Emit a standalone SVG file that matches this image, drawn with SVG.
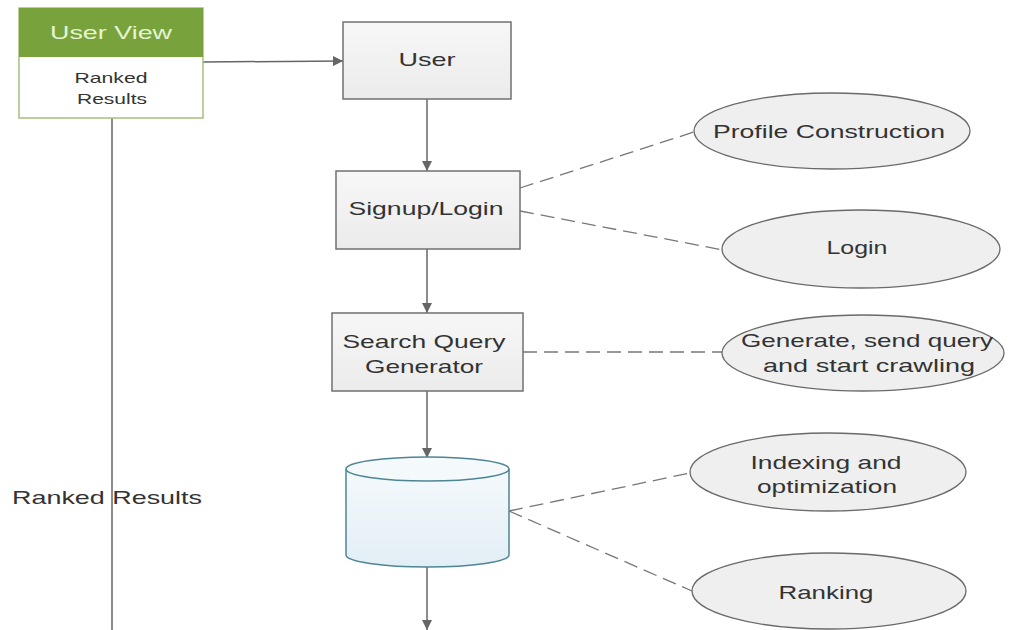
<svg xmlns="http://www.w3.org/2000/svg" width="1009" height="630" viewBox="0 0 1009 630">
<defs>
<linearGradient id="boxg" x1="0" y1="0" x2="0" y2="1"><stop offset="0" stop-color="#f7f7f7"/><stop offset="1" stop-color="#ebebeb"/></linearGradient>
<linearGradient id="cylg" x1="0" y1="0" x2="0" y2="1"><stop offset="0" stop-color="#f4f9fc"/><stop offset="1" stop-color="#e2eef5"/></linearGradient>
<marker id="arr" viewBox="0 0 10 10" refX="10" refY="5" markerWidth="10" markerHeight="10" markerUnits="userSpaceOnUse" orient="auto"><path d="M0,0 L10,5 L0,10 z" fill="#666"/></marker>
<style>
.box{fill:url(#boxg);stroke:#707070;stroke-width:1.5}
.ell{fill:#efefef;stroke:#6a6a6a;stroke-width:1.3}
.t{font-family:"Liberation Sans",Arial,sans-serif;fill:#333;font-size:19px;text-anchor:middle}
.s{font-size:15px}
.ln{stroke:#666;stroke-width:1.5;fill:none}
.dash{stroke:#777;stroke-width:1.3;fill:none;stroke-dasharray:14 7}
</style>
</defs>
<rect width="1009" height="630" fill="#fff"/>
<g id="connectors">
<line class="ln" x1="203" y1="62" x2="343" y2="61" marker-end="url(#arr)"/>
<line class="ln" x1="112" y1="118" x2="112" y2="630"/>
<line class="ln" x1="427" y1="99" x2="427" y2="171" marker-end="url(#arr)"/>
<line class="ln" x1="427" y1="249" x2="427" y2="313" marker-end="url(#arr)"/>
<line class="ln" x1="427" y1="391" x2="427" y2="458" marker-end="url(#arr)"/>
<line class="ln" x1="427" y1="567" x2="427" y2="630" marker-end="url(#arr)"/>
<line class="dash" x1="520" y1="188" x2="694" y2="132"/>
<line class="dash" x1="520" y1="211" x2="723" y2="250"/>
<line class="dash" x1="523" y1="352" x2="722" y2="352"/>
<line class="dash" x1="509" y1="511" x2="690" y2="473"/>
<line class="dash" x1="509" y1="511" x2="692" y2="591"/>
</g>
<g id="userview">
<rect x="19" y="8" width="184" height="110" fill="#fff" stroke="#a5c07a" stroke-width="1.5"/>
<rect x="19" y="8" width="184" height="49" fill="#78a33c"/>
<text class="t" x="111" y="39" fill="#e6f3d2" style="fill:#e6f3d2" font-size="18" textLength="122" lengthAdjust="spacingAndGlyphs">User View</text>
<text class="t s" x="111" y="83" textLength="73" lengthAdjust="spacingAndGlyphs">Ranked</text>
<text class="t s" x="112" y="104" textLength="70" lengthAdjust="spacingAndGlyphs">Results</text>
</g>
<g id="rankedlabel">
<text class="t" x="107" y="504" textLength="190" lengthAdjust="spacingAndGlyphs">Ranked Results</text>
</g>
<g id="user">
<rect class="box" x="343" y="22" width="168" height="77"/>
<text class="t" x="427" y="66" textLength="57" lengthAdjust="spacingAndGlyphs">User</text>
</g>
<g id="signup">
<rect class="box" x="336" y="171" width="184" height="78"/>
<text class="t" x="426" y="215" textLength="155" lengthAdjust="spacingAndGlyphs">Signup/Login</text>
</g>
<g id="search">
<rect class="box" x="332" y="313" width="191" height="78"/>
<text class="t" x="424" y="348" textLength="163" lengthAdjust="spacingAndGlyphs">Search Query</text>
<text class="t" x="424" y="373" textLength="118" lengthAdjust="spacingAndGlyphs">Generator</text>
</g>
<g id="database">
<path d="M346,469 L346,555 A81.5,12 0 0 0 509,555 L509,469" fill="url(#cylg)" stroke="#4f8494" stroke-width="1.5"/>
<ellipse cx="427.5" cy="469" rx="81.5" ry="12" fill="#f4f9fc" stroke="#4f8494" stroke-width="1.5"/>
</g>
<g id="profile">
<ellipse class="ell" cx="832" cy="131" rx="138" ry="38"/>
<text class="t" x="829" y="138" textLength="232" lengthAdjust="spacingAndGlyphs">Profile Construction</text>
</g>
<g id="login">
<ellipse class="ell" cx="861" cy="249" rx="139" ry="39"/>
<text class="t" x="857" y="254" textLength="61" lengthAdjust="spacingAndGlyphs">Login</text>
</g>
<g id="generate">
<ellipse class="ell" cx="863" cy="353" rx="141" ry="38"/>
<text class="t" x="867" y="347" textLength="252" lengthAdjust="spacingAndGlyphs">Generate, send query</text>
<text class="t" x="869" y="372" textLength="212" lengthAdjust="spacingAndGlyphs">and start crawling</text>
</g>
<g id="indexing">
<ellipse class="ell" cx="828" cy="472" rx="138" ry="39"/>
<text class="t" x="826" y="469" textLength="151" lengthAdjust="spacingAndGlyphs">Indexing and</text>
<text class="t" x="827" y="493" textLength="140" lengthAdjust="spacingAndGlyphs">optimization</text>
</g>
<g id="ranking">
<ellipse class="ell" cx="829" cy="591" rx="137" ry="38"/>
<text class="t" x="826" y="599" textLength="95" lengthAdjust="spacingAndGlyphs">Ranking</text>
</g>
</svg>
